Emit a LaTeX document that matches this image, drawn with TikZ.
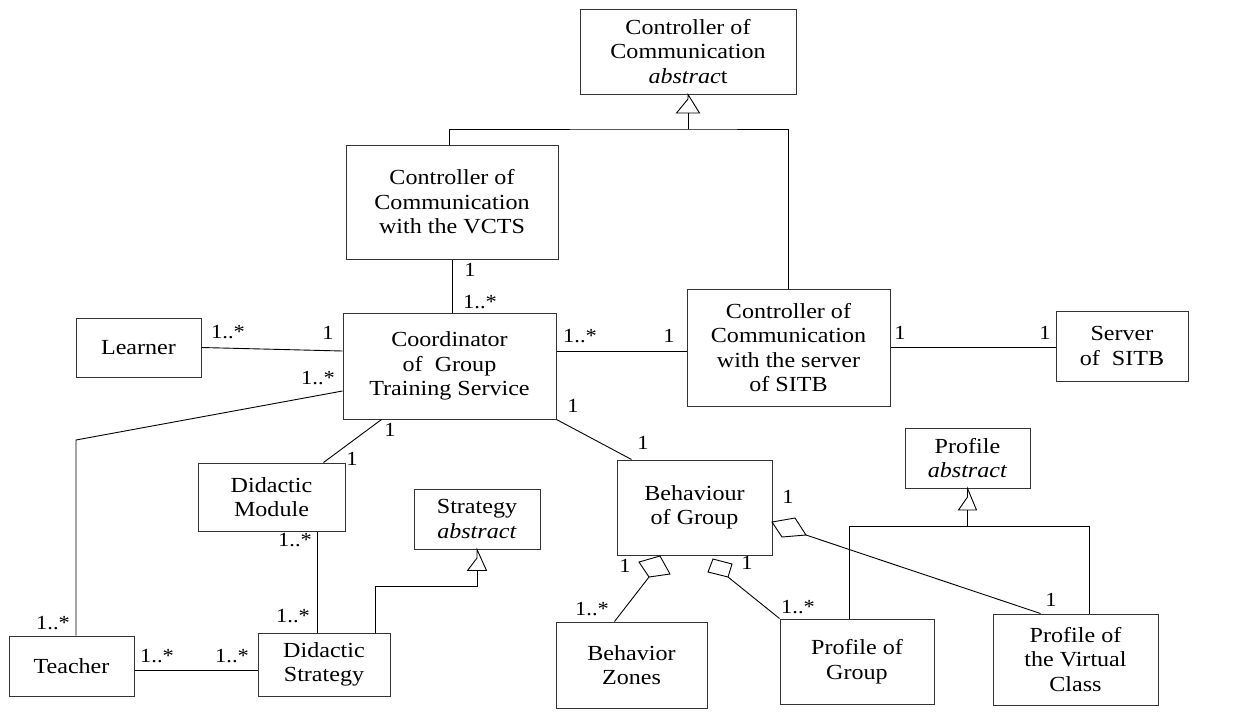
\documentclass[tikz,border=0pt]{standalone}
\usepackage{fontspec}
\setmainfont[FakeStretch=1.12]{Liberation Serif}
% class box given by its left, top, right and bottom edge
\newcommand\umlclass[6]{%
  \node[cls, minimum width={#4-#2}, minimum height={#5-#3}] (#1)
    at ({(#2+#4)/2},{(#3+#5)/2}) {#6};}
\begin{document}
\begin{tikzpicture}[x=1pt,y=-1pt,
  cls/.style={draw=black!80, line width=1pt, fill=white, inner sep=0pt,
              align=center, font=\fontsize{21.5}{24.5}\selectfont},
  link/.style={draw=black, line width=0.9pt, line join=miter},
  mult/.style={inner sep=0pt, font=\fontsize{20}{22}\selectfont}]
\useasboundingbox (0,0) rectangle (1239,713);

% classes
\umlclass{ccabs}{580}{9}{796}{94}{Controller of\\Communication\\\textit{abstrac}t}
\umlclass{vcts}{346}{145}{558}{259}{Controller of\\Communication\\with the VCTS}
\umlclass{coord}{343}{313}{556}{419}{Coordinator\\of~~Group\\Training Service}
\umlclass{ccserver}{687}{289}{890}{406}{Controller of\\Communication\\with the server\\of SITB}
\umlclass{server}{1056}{311}{1188}{381}{Server\\of~~SITB}
\umlclass{learner}{76}{318}{201}{377}{Learner}
\umlclass{dmod}{198}{463}{345}{531}{Didactic\\Module}
\umlclass{stratabs}{414}{489}{540}{549}{Strategy\\\textit{abstract}}
\umlclass{dstrat}{258}{633}{390}{696}{Didactic\\Strategy}
\umlclass{teacher}{9}{636}{134}{696}{Teacher}
\umlclass{behav}{617}{460}{772}{555}{Behaviour\\of Group}
\umlclass{bzones}{556}{622}{707}{708}{Behavior\\Zones}
\umlclass{pgroup}{780}{619}{934}{704}{Profile of\\Group}
\umlclass{profabs}{905}{428}{1030}{488}{Profile\\\textit{abstract}}
\umlclass{pvc}{993}{614}{1158}{705}{Profile of\\the Virtual\\Class}

% generalisation: Controller of Communication
\coordinate (t1) at (688,99);
\coordinate (t1b) at (688,113);
\coordinate (j1) at (688,129);
\coordinate (j1l) at (449,129);
\draw[link] (ccabs.south) -- (t1) -- ++(-11.5,14) -- ++(23,0) -- cycle;
\draw[link] (t1b) -- (j1);
\draw[link] (j1l |- vcts.north) -- (j1l) -- (j1) -| (ccserver.north);

% generalisation: Strategy
\coordinate (t2) at (477,558);
\coordinate (t2b) at (477,570.5);
\coordinate (j2) at (375,586);
\draw[link] (stratabs.south) -- (t2) -- ++(-9.5,12.5) -- ++(19,0) -- cycle;
\draw[link] (t2b) |- (j2) -- (j2 |- dstrat.north);

% generalisation: Profile
\coordinate (t3) at (967.5,497);
\coordinate (t3b) at (967.5,510);
\coordinate (j3) at (967.5,526);
\coordinate (j3l) at (849,526);
\coordinate (j3r) at (1089,526);
\draw[link] (profabs.south) -- (t3) -- ++(-9,13) -- ++(18,0) -- cycle;
\draw[link] (t3b) -- (j3);
\draw[link] (j3l |- pgroup.north) -- (j3l) -- (j3r) -- (j3r |- pvc.north);

% associations
\draw[link] (vcts.south) -- (vcts.south |- coord.north);
\draw[link] (learner.east) -- ([yshift=15pt]coord.west);
\draw[link] ([yshift=15pt]coord.east) -- ([yshift=15pt]coord.east -| ccserver.west);
\draw[link] (ccserver.east) -- (ccserver.east -| server.west);
\coordinate (tb) at (76,440);
\draw[link] ([yshift=-25pt]coord.west) -- (tb) -- (tb |- teacher.north);
\draw[link] ([xshift=39pt]coord.south west) -- ([xshift=-22pt]dmod.north east);
\draw[link] ([xshift=120pt]dmod.south west) coordinate (dd) -- (dd |- dstrat.north);
\draw[link] ([yshift=-4pt]teacher.east) -- ([yshift=-4pt]teacher.east -| dstrat.west);
\draw[link] (coord.south east) -- ([xshift=15pt]behav.north west);

% aggregations of Behaviour of Group
\coordinate (d1) at (649,577);
\draw[link] (660,556) -- (639,562) -- (d1) -- (670,574) -- cycle;
\draw[link] (d1) -- ([xshift=59pt]bzones.north west);
\coordinate (d2) at (728,577);
\draw[link] (713,559) -- (708,572) -- (d2) -- (732,564) -- cycle;
\draw[link] (d2) -- (pgroup.north west);
\coordinate (d3) at (806,535);
\draw[link] (772,522) -- (795,518) -- (d3) -- (782,537) -- cycle;
\draw[link] (d3) -- ([xshift=48pt]pvc.north west);

% multiplicities
\node[mult] (m1) at (470,270) {1};
\node[mult] (m2) at (480,302) {1..*};
\node[mult] (m3) at (580,336) {1..*};
\node[mult] (m4) at (669,336) {1};
\node[mult] (m5) at (573,406) {1};
\node[mult] (m6) at (390,430) {1};
\node[mult] (m7) at (352,459) {1};
\node[mult] (m8) at (228,332) {1..*};
\node[mult] (m9) at (328,333) {1};
\node[mult] (m10) at (318,378) {1..*};
\node[mult] (m11) at (53,623) {1..*};
\node[mult] (m12) at (157,656) {1..*};
\node[mult] (m13) at (232,656) {1..*};
\node[mult] (m14) at (293,616) {1..*};
\node[mult] (m15) at (295,540) {1..*};
\node[mult] (m16) at (643,443) {1};
\node[mult] (m17) at (788,497) {1};
\node[mult] (m18) at (625,566) {1};
\node[mult] (m19) at (747,563) {1};
\node[mult] (m20) at (592,609) {1..*};
\node[mult] (m21) at (798,607) {1..*};
\node[mult] (m22) at (1051,600) {1};
\node[mult] (m23) at (900,333) {1};
\node[mult] (m24) at (1045,333) {1};
\end{tikzpicture}
\end{document}
